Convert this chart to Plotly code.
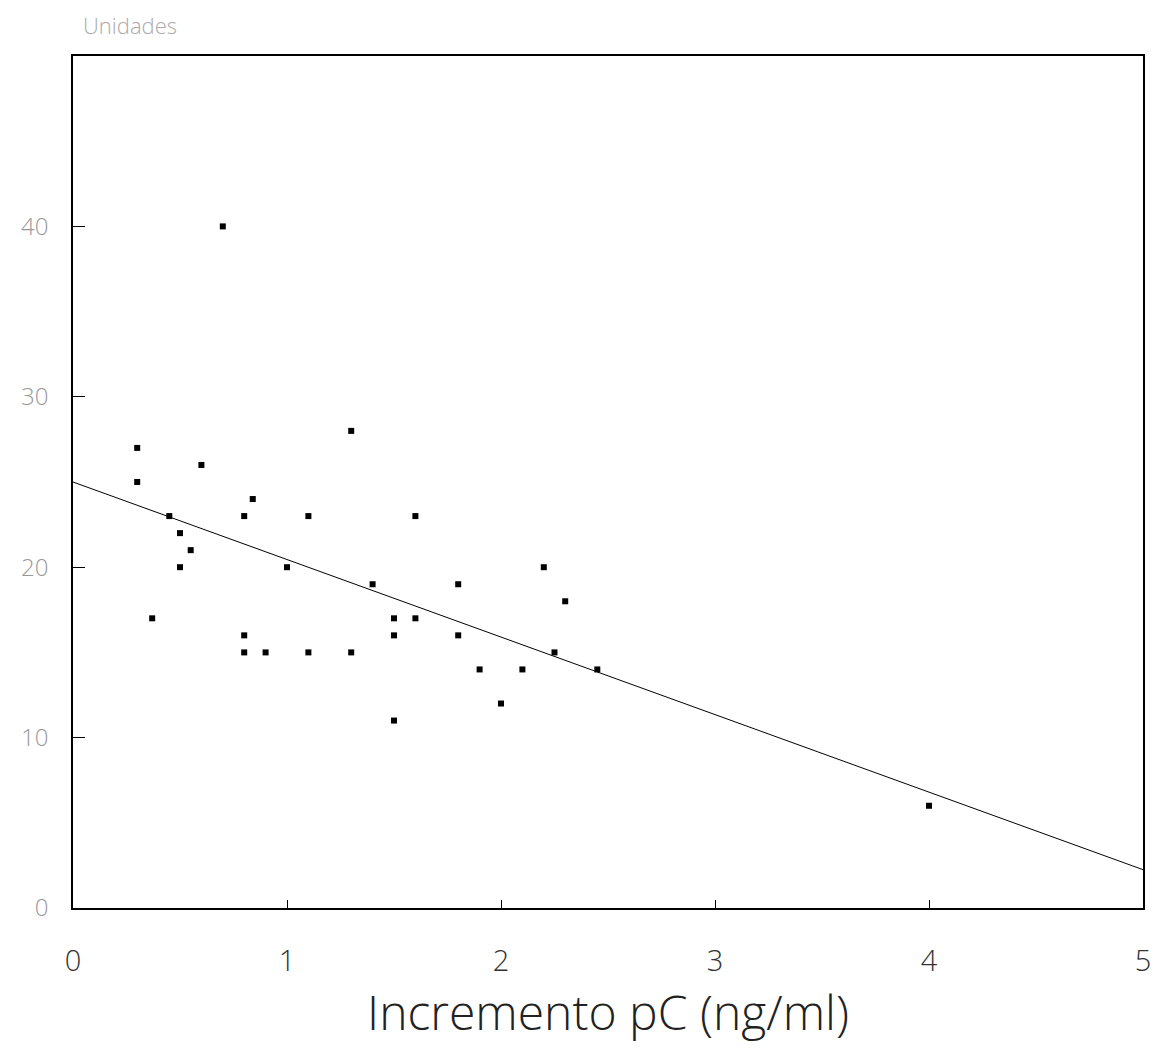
import plotly.graph_objects as go

# Data
incremento_pc = [0.3, 0.3, 0.37, 0.45, 0.5, 0.5, 0.55, 0.6, 0.7, 0.8, 0.84, 0.8, 0.8, 0.9,
                 1.0, 1.1, 1.1, 1.3, 1.3, 1.4, 1.5, 1.5, 1.5, 1.6, 1.6, 1.8, 1.8, 1.9,
                 2.0, 2.1, 2.2, 2.25, 2.3, 2.45, 4.0]
unidades = [27, 25, 17, 23, 22, 20, 21, 26, 40, 23, 24, 16, 15, 15,
            20, 23, 15, 28, 15, 19, 17, 16, 11, 23, 17, 19, 16, 14,
            12, 14, 20, 15, 18, 14, 6]

line_intercept = 25.0
line_slope = -4.55
line_x = [0, 5]
line_y = [line_intercept + line_slope * v for v in line_x]

x_ticks = [0, 1, 2, 3, 4, 5]
y_ticks = [0, 10, 20, 30, 40]
x_title = "Incremento pC (ng/ml)"
y_title = "Unidades"

fig = go.Figure()
fig.add_trace(go.Scatter(x=line_x, y=line_y, mode="lines",
                         line=dict(color="black", width=1), hoverinfo="skip"))
fig.add_trace(go.Scatter(x=incremento_pc, y=unidades, mode="markers",
                         marker=dict(symbol="square", size=6, color="black")))

font_family = "Open Sans"
fig.update_layout(
    width=1164, height=1054,
    margin=dict(l=73, r=21, t=56, b=146),
    paper_bgcolor="white", plot_bgcolor="white",
    showlegend=False,
    font=dict(family=font_family, color="#222"),
    xaxis=dict(range=[0, 5], tickvals=x_ticks, ticks="inside", ticklen=8,
               tickcolor="black", showgrid=False, zeroline=False,
               showline=True, linecolor="black", linewidth=1.5, mirror=True,
               tickfont=dict(size=29, color="#333", family=font_family, weight=300),
               ticklabelstandoff=26,
               title=dict(text=x_title, standoff=12,
                          font=dict(size=48, color="#222", family=font_family, weight=300))),
    yaxis=dict(range=[0, 50], tickvals=y_ticks, ticks="inside", ticklen=12,
               tickcolor="black", showgrid=False, zeroline=False,
               showline=True, linecolor="black", linewidth=1.5, mirror=True,
               tickfont=dict(size=24, color="#999", family=font_family, weight=300),
               ticklabelstandoff=18),
    annotations=[dict(text=y_title, xref="paper", yref="paper", x=0.0, y=1.0,
                      xanchor="left", yanchor="bottom", yshift=14, xshift=8,
                      showarrow=False,
                      font=dict(size=22, color="#aaa", family=font_family, weight=300))],
)

fig.write_html("out.html")
